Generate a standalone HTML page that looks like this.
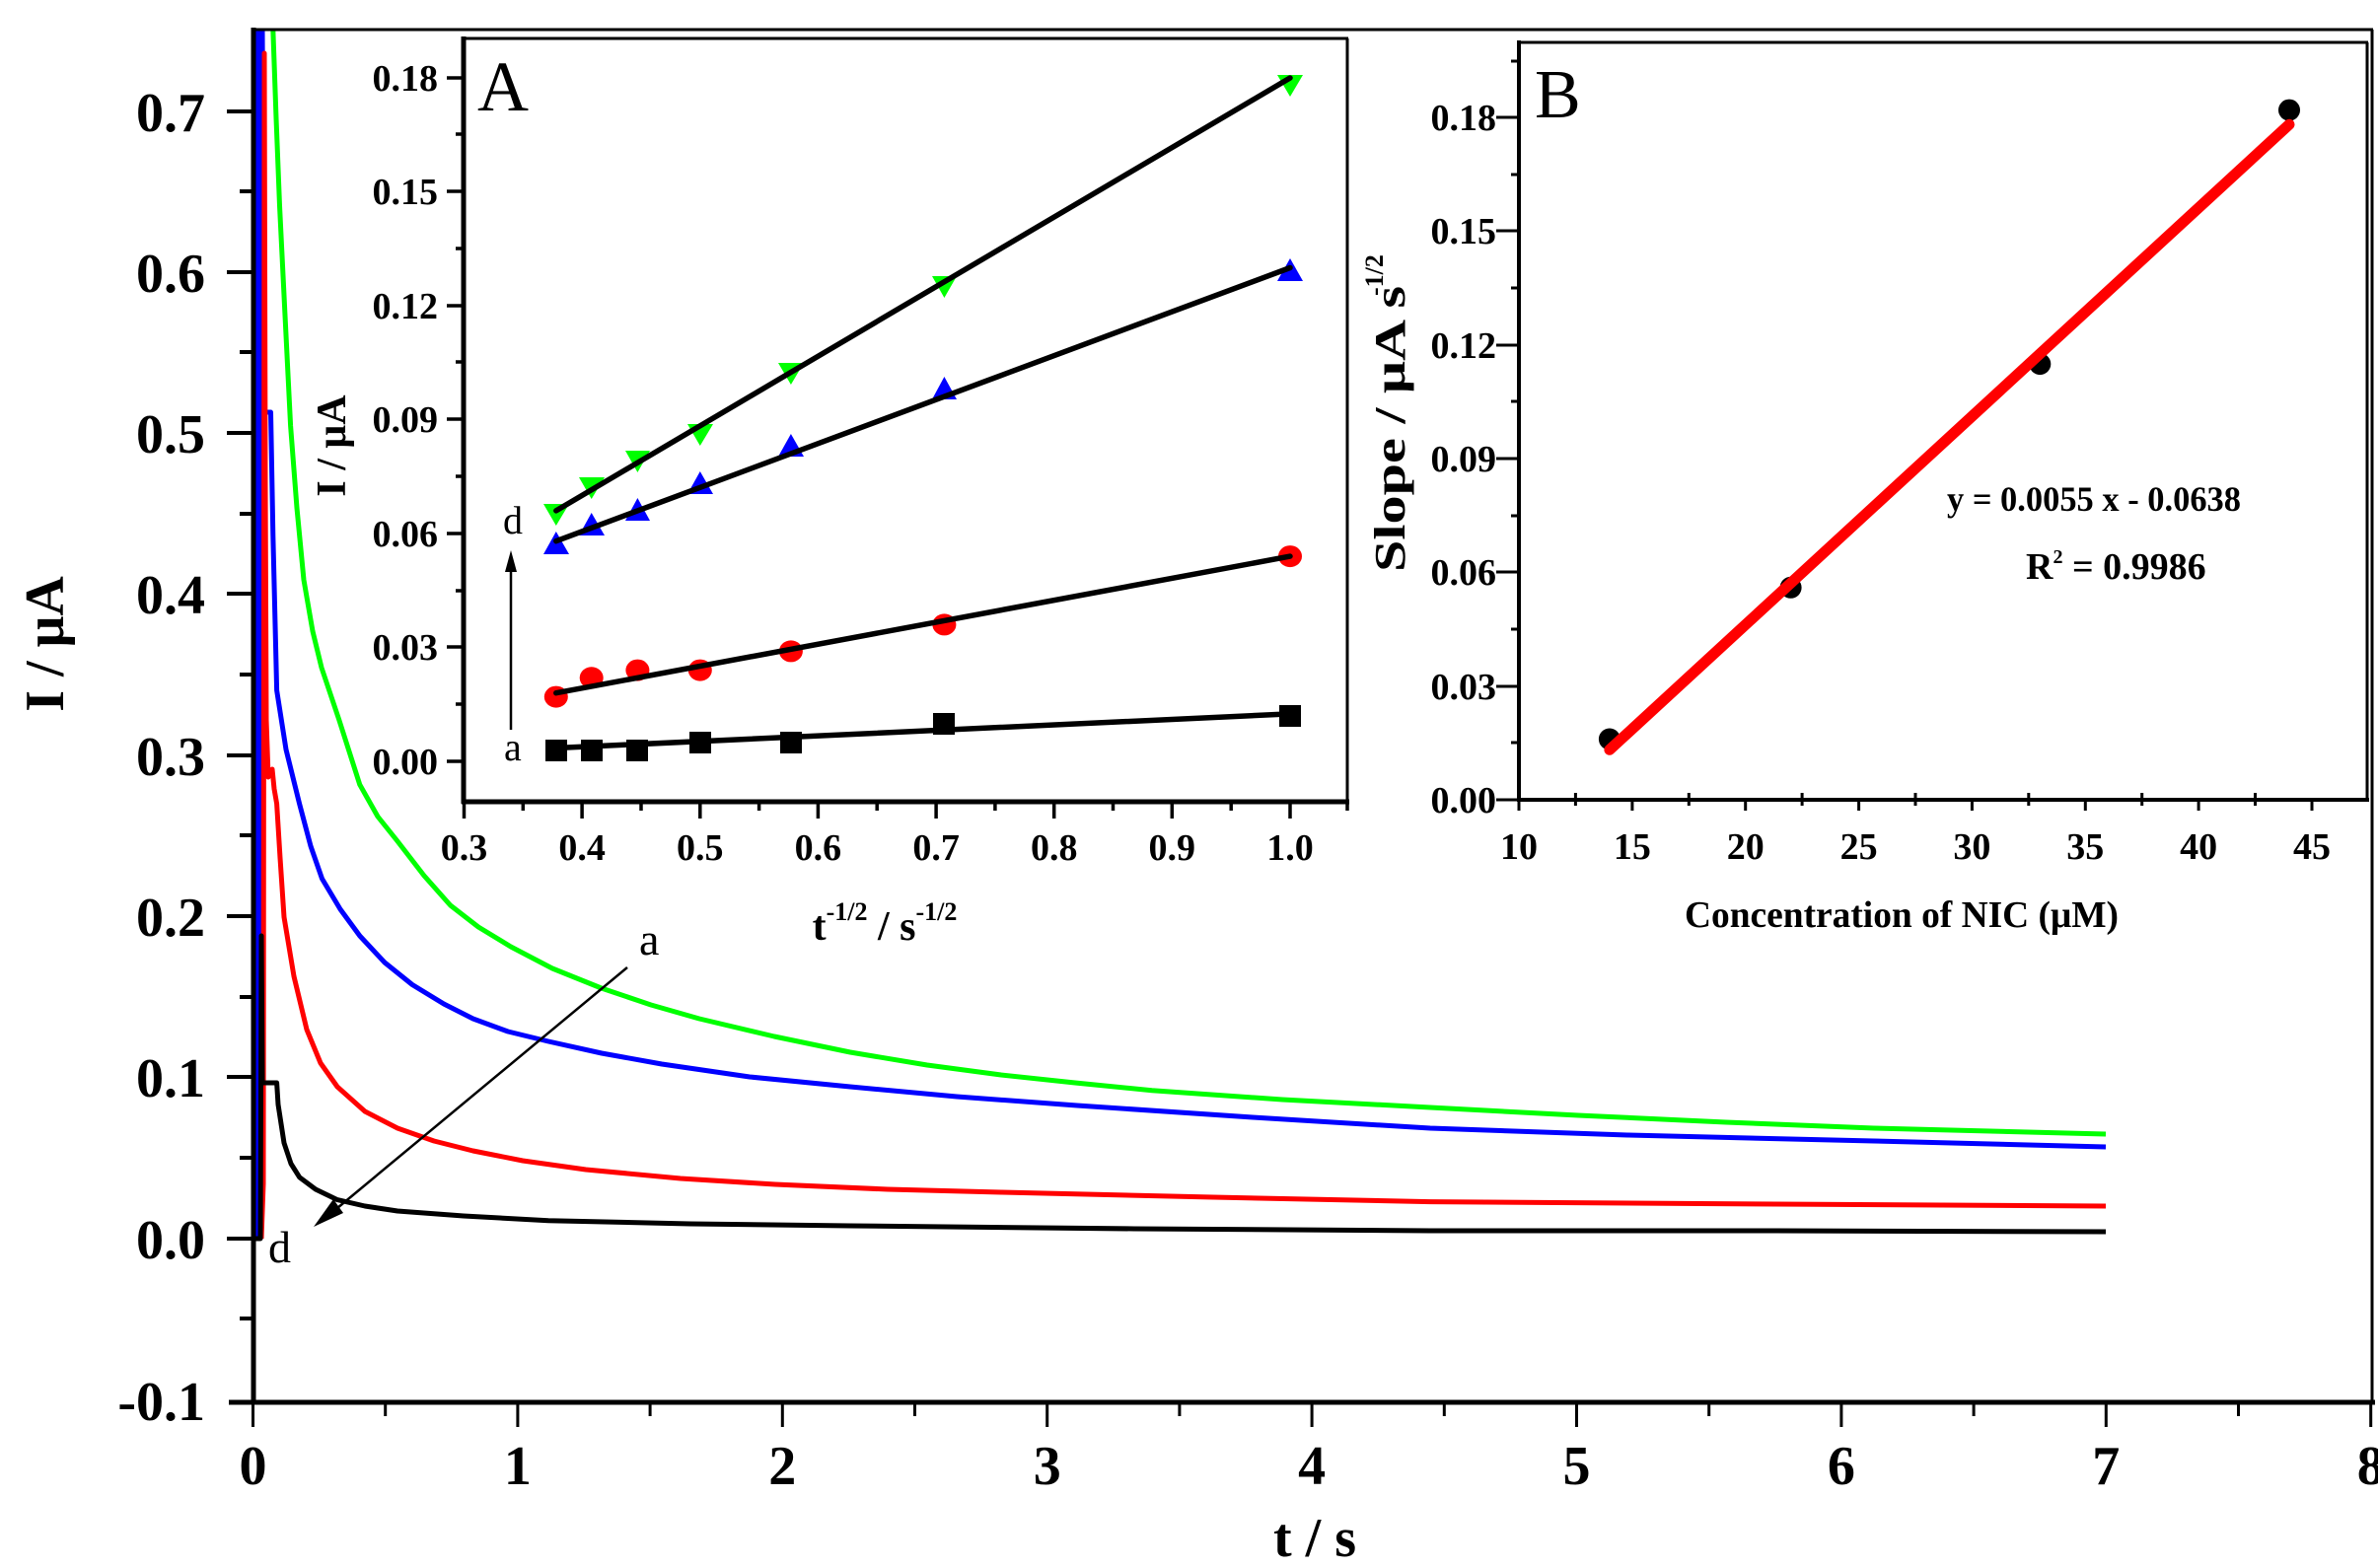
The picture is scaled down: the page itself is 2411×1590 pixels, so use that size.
<!DOCTYPE html>
<html><head><meta charset="utf-8"><style>
html,body{margin:0;padding:0;background:#fff;}
svg{display:block;}
text{font-family:"Liberation Serif",serif;}
</style></head><body>
<svg width="2411" height="1590" viewBox="0 0 2411 1590" xmlns="http://www.w3.org/2000/svg">
<defs><clipPath id="cp"><rect x="257" y="30" width="2148" height="1392"/></clipPath></defs>
<rect width="2411" height="1590" fill="#fff"/>

<!-- main curves -->
<g fill="none" stroke-width="5" stroke-linejoin="round" stroke-linecap="butt" clip-path="url(#cp)">
<polyline stroke="#00ff00" stroke-width="3" points="264,1256 264,440"/>
<polyline stroke="#00ff00" points="276.8,30 280,120 283.5,208.6 289,320 294.6,431.8 301,515 308,588 317,640 326,677 343.8,730 364.8,795.7 383,828 403,853 430,888 456.6,918 485,940 517.9,960 560,982 609.7,1002 660,1019 709,1033 785,1051 862,1067 940,1080 1015,1090 1090,1098 1168,1105.7 1300,1115 1450,1123 1600,1131 1750,1138 1900,1144 2135,1150"/>
<polyline stroke="#0000ff" stroke-width="16" points="259,1256 259,30"/>
<polyline stroke="#0000ff" points="266,30 268,418 274.5,418 276.8,543 280.6,700 290,760 303.6,815 315,858 326.5,891 345,922 364.8,949 390,976 418,998.5 450,1018 479.6,1033 515,1046 556,1056 610,1068 671,1079 760,1092 862,1102 970,1112 1092,1121 1270,1133 1450,1144 1650,1151 1900,1157 2135,1163"/>
<polyline stroke="#ff0000" points="265,1256 267,1200 268,54 269,490 270,730 272,788 276,780 278,800 280.6,815 284,870 288,930 298,990 311,1044 325,1078 342,1102 370,1127 403,1144 440,1157 479.6,1167 530,1177 594,1186 690,1195 786,1201 900,1206 1015,1209 1230,1214 1450,1218.6 1800,1221 2135,1223"/>
<polyline stroke="#000" points="258,1256 264,1256 265,949 266,1098 274,1098 280.6,1098 282,1120 288,1159 295,1180 303.6,1193.7 320,1206 342,1216.6 370,1223 403,1228 470,1233 556,1237.7 700,1241 862,1243 1150,1246 1450,1248 1800,1248 2135,1249"/>
</g>

<!-- main axes -->
<g stroke="#000" fill="none">
<line x1="256" y1="30" x2="2406" y2="30" stroke-width="3"/>
<line x1="2405" y1="30" x2="2405" y2="1424" stroke-width="3"/>
<line x1="257" y1="28" x2="257" y2="1424" stroke-width="5"/>
<line x1="232" y1="1422" x2="2408" y2="1422" stroke-width="5"/>
<g stroke-width="4">
<line x1="230" y1="113" x2="257" y2="113"/><line x1="243" y1="194" x2="257" y2="194"/>
<line x1="230" y1="276" x2="257" y2="276"/><line x1="243" y1="357" x2="257" y2="357"/>
<line x1="230" y1="439" x2="257" y2="439"/><line x1="243" y1="521" x2="257" y2="521"/>
<line x1="230" y1="602" x2="257" y2="602"/><line x1="243" y1="684" x2="257" y2="684"/>
<line x1="230" y1="766" x2="257" y2="766"/><line x1="243" y1="847" x2="257" y2="847"/>
<line x1="230" y1="929" x2="257" y2="929"/><line x1="243" y1="1011" x2="257" y2="1011"/>
<line x1="230" y1="1092" x2="257" y2="1092"/><line x1="243" y1="1174" x2="257" y2="1174"/>
<line x1="230" y1="1256" x2="257" y2="1256"/><line x1="243" y1="1337" x2="257" y2="1337"/>
</g>
<g stroke-width="3">
<line x1="256.5" y1="1422" x2="256.5" y2="1447"/><line x1="390.7" y1="1422" x2="390.7" y2="1436"/>
<line x1="524.9" y1="1422" x2="524.9" y2="1447"/><line x1="659.1" y1="1422" x2="659.1" y2="1436"/>
<line x1="793.3" y1="1422" x2="793.3" y2="1447"/><line x1="927.5" y1="1422" x2="927.5" y2="1436"/>
<line x1="1061.7" y1="1422" x2="1061.7" y2="1447"/><line x1="1195.9" y1="1422" x2="1195.9" y2="1436"/>
<line x1="1330.1" y1="1422" x2="1330.1" y2="1447"/><line x1="1464.3" y1="1422" x2="1464.3" y2="1436"/>
<line x1="1598.5" y1="1422" x2="1598.5" y2="1447"/><line x1="1732.7" y1="1422" x2="1732.7" y2="1436"/>
<line x1="1866.9" y1="1422" x2="1866.9" y2="1447"/><line x1="2001.1" y1="1422" x2="2001.1" y2="1436"/>
<line x1="2135.3" y1="1422" x2="2135.3" y2="1447"/><line x1="2269.5" y1="1422" x2="2269.5" y2="1436"/>
<line x1="2403.7" y1="1422" x2="2403.7" y2="1447"/>
</g>
</g>
<g font-size="56" font-weight="bold" text-anchor="end">
<text x="208" y="133">0.7</text><text x="208" y="296">0.6</text><text x="208" y="459">0.5</text>
<text x="208" y="622">0.4</text><text x="208" y="786">0.3</text><text x="208" y="949">0.2</text>
<text x="208" y="1112">0.1</text><text x="208" y="1276">0.0</text><text x="208" y="1440">-0.1</text>
</g>
<g font-size="56" font-weight="bold" text-anchor="middle">
<text x="256.5" y="1505">0</text><text x="524.9" y="1505">1</text><text x="793.3" y="1505">2</text>
<text x="1061.7" y="1505">3</text><text x="1330.1" y="1505">4</text><text x="1598.5" y="1505">5</text>
<text x="1866.9" y="1505">6</text><text x="2135.3" y="1505">7</text><text x="2403.7" y="1505">8</text>
<text x="1333" y="1578">t / s</text>
<text transform="translate(64,653) rotate(-90)">I / μA</text>
</g>
<!-- a->d arrow main -->
<line x1="636" y1="981" x2="330" y2="1235" stroke="#000" stroke-width="2.5"/>
<polygon points="318,1244 338,1216 348,1230" fill="#000"/>
<text x="648" y="968" font-size="46">a</text>
<text x="272" y="1280" font-size="46">d</text>

<!-- Inset A -->
<rect x="470" y="39" width="897" height="774" fill="#fff" stroke="none"/>
<g stroke="#000" fill="none">
<line x1="470" y1="39" x2="1367" y2="39" stroke-width="3"/>
<line x1="1366" y1="39" x2="1366" y2="815" stroke-width="3"/>
<line x1="470" y1="37" x2="470" y2="815" stroke-width="5"/>
<line x1="468" y1="813" x2="1368" y2="813" stroke-width="5"/>
<g stroke-width="3.5">
<line x1="453" y1="79" x2="470" y2="79"/><line x1="462" y1="136" x2="470" y2="136"/>
<line x1="453" y1="194" x2="470" y2="194"/><line x1="462" y1="252" x2="470" y2="252"/>
<line x1="453" y1="310" x2="470" y2="310"/><line x1="462" y1="367" x2="470" y2="367"/>
<line x1="453" y1="425" x2="470" y2="425"/><line x1="462" y1="483" x2="470" y2="483"/>
<line x1="453" y1="541" x2="470" y2="541"/><line x1="462" y1="599" x2="470" y2="599"/>
<line x1="453" y1="656" x2="470" y2="656"/><line x1="462" y1="714" x2="470" y2="714"/>
<line x1="453" y1="772" x2="470" y2="772"/>
<line x1="470.5" y1="813" x2="470.5" y2="830"/><line x1="530.3" y1="813" x2="530.3" y2="822"/>
<line x1="590.1" y1="813" x2="590.1" y2="830"/><line x1="650" y1="813" x2="650" y2="822"/>
<line x1="709.8" y1="813" x2="709.8" y2="830"/><line x1="769.6" y1="813" x2="769.6" y2="822"/>
<line x1="829.4" y1="813" x2="829.4" y2="830"/><line x1="889.2" y1="813" x2="889.2" y2="822"/>
<line x1="949.1" y1="813" x2="949.1" y2="830"/><line x1="1008.9" y1="813" x2="1008.9" y2="822"/>
<line x1="1068.7" y1="813" x2="1068.7" y2="830"/><line x1="1128.5" y1="813" x2="1128.5" y2="822"/>
<line x1="1188.3" y1="813" x2="1188.3" y2="830"/><line x1="1248.2" y1="813" x2="1248.2" y2="822"/>
<line x1="1308" y1="813" x2="1308" y2="830"/><line x1="1366" y1="813" x2="1366" y2="822"/>
</g>
</g>
<g font-size="38" font-weight="bold" text-anchor="end">
<text x="444" y="92">0.18</text><text x="444" y="207">0.15</text><text x="444" y="323">0.12</text>
<text x="444" y="438">0.09</text><text x="444" y="554">0.06</text><text x="444" y="669">0.03</text>
<text x="444" y="785">0.00</text>
</g>
<g font-size="38" font-weight="bold" text-anchor="middle">
<text x="470.5" y="872">0.3</text><text x="590.1" y="872">0.4</text><text x="709.8" y="872">0.5</text>
<text x="829.4" y="872">0.6</text><text x="949.1" y="872">0.7</text><text x="1068.7" y="872">0.8</text>
<text x="1188.3" y="872">0.9</text><text x="1308" y="872">1.0</text>
</g>
<text x="897" y="953" font-size="42" font-weight="bold" text-anchor="middle">t<tspan font-size="26" dy="-20">-1/2</tspan><tspan dy="20"> / s</tspan><tspan font-size="26" dy="-20">-1/2</tspan></text>
<text transform="translate(350,452) rotate(-90)" font-size="42" font-weight="bold" text-anchor="middle">I / μA</text>
<text x="484" y="112" font-size="72">A</text>
<line x1="518" y1="740" x2="518" y2="575" stroke="#000" stroke-width="2.5"/>
<polygon points="518,558 512,580 524,580" fill="#000"/>
<text x="510" y="541" font-size="40">d</text>
<text x="511" y="771" font-size="40">a</text>

<g fill="#000">
<rect x="553" y="750" width="22" height="22"/><rect x="589" y="750" width="22" height="22"/>
<rect x="635" y="750" width="22" height="22"/><rect x="699" y="742" width="22" height="22"/>
<rect x="791" y="742" width="22" height="22"/><rect x="946" y="723" width="22" height="22"/>
<rect x="1297" y="715" width="22" height="22"/>
</g>
<g fill="#ff0000">
<ellipse cx="563.8" cy="706.6" rx="12" ry="11"/><ellipse cx="599.7" cy="687.3" rx="12" ry="11"/>
<ellipse cx="646.4" cy="679.6" rx="12" ry="11"/><ellipse cx="709.8" cy="679.6" rx="12" ry="11"/>
<ellipse cx="801.9" cy="660.4" rx="12" ry="11"/><ellipse cx="957.4" cy="633.4" rx="12" ry="11"/>
<ellipse cx="1308" cy="564.1" rx="12" ry="11"/>
</g>
<g fill="#0000ff">
<polygon points="563.8,539 551,562 577,562"/><polygon points="599.7,520 587,543 613,543"/>
<polygon points="646.4,505 634,528 659,528"/><polygon points="709.8,478 697,501 723,501"/>
<polygon points="801.9,440 789,463 815,463"/><polygon points="957.4,382 945,405 970,405"/>
<polygon points="1308,262 1295,285 1321,285"/>
</g>
<g fill="#00ff00">
<polygon points="563.8,533 551,511 577,511"/><polygon points="599.7,506 587,484 613,484"/>
<polygon points="646.4,479 634,457 659,457"/><polygon points="709.8,452 697,430 723,430"/>
<polygon points="801.9,390 789,368 815,368"/><polygon points="957.4,302 945,280 970,280"/>
<polygon points="1308,98 1295,76 1321,76"/>
</g>
<g stroke="#000" stroke-width="5.5" stroke-linecap="round">
<line x1="563.8" y1="758.5" x2="1308" y2="723.9"/>
<line x1="563.8" y1="702.7" x2="1308" y2="564.1"/>
<line x1="563.8" y1="548.7" x2="1308" y2="271.5"/>
<line x1="563.8" y1="517.9" x2="1308" y2="79"/>
</g>

<!-- Inset B -->
<rect x="1540" y="43" width="861" height="768" fill="#fff"/>
<g stroke="#000" fill="none">
<line x1="1540" y1="43" x2="2401" y2="43" stroke-width="3"/>
<line x1="2400" y1="43" x2="2400" y2="813" stroke-width="3"/>
<line x1="1540" y1="41" x2="1540" y2="813" stroke-width="4"/>
<line x1="1538" y1="811" x2="2402" y2="811" stroke-width="4"/>
<g stroke-width="3">
<line x1="1517" y1="119" x2="1540" y2="119"/><line x1="1532" y1="62" x2="1540" y2="62"/><line x1="1532" y1="177" x2="1540" y2="177"/>
<line x1="1517" y1="234" x2="1540" y2="234"/><line x1="1532" y1="292" x2="1540" y2="292"/>
<line x1="1517" y1="350" x2="1540" y2="350"/><line x1="1532" y1="407" x2="1540" y2="407"/>
<line x1="1517" y1="465" x2="1540" y2="465"/><line x1="1532" y1="523" x2="1540" y2="523"/>
<line x1="1517" y1="580" x2="1540" y2="580"/><line x1="1532" y1="638" x2="1540" y2="638"/>
<line x1="1517" y1="696" x2="1540" y2="696"/><line x1="1532" y1="753" x2="1540" y2="753"/>
<line x1="1517" y1="811" x2="1540" y2="811"/>
<line x1="1540" y1="811" x2="1540" y2="822"/><line x1="1597.4" y1="804" x2="1597.4" y2="817"/>
<line x1="1654.9" y1="811" x2="1654.9" y2="822"/><line x1="1712.3" y1="804" x2="1712.3" y2="817"/>
<line x1="1769.7" y1="811" x2="1769.7" y2="822"/><line x1="1827.1" y1="804" x2="1827.1" y2="817"/>
<line x1="1884.6" y1="811" x2="1884.6" y2="822"/><line x1="1942" y1="804" x2="1942" y2="817"/>
<line x1="1999.4" y1="811" x2="1999.4" y2="822"/><line x1="2056.8" y1="804" x2="2056.8" y2="817"/>
<line x1="2114.3" y1="811" x2="2114.3" y2="822"/><line x1="2171.7" y1="804" x2="2171.7" y2="817"/>
<line x1="2229.1" y1="811" x2="2229.1" y2="822"/><line x1="2286.5" y1="804" x2="2286.5" y2="817"/>
<line x1="2344" y1="811" x2="2344" y2="822"/>
</g>
</g>
<g font-size="38" font-weight="bold" text-anchor="end">
<text x="1517" y="132">0.18</text><text x="1517" y="247">0.15</text><text x="1517" y="363">0.12</text>
<text x="1517" y="478">0.09</text><text x="1517" y="593">0.06</text><text x="1517" y="709">0.03</text>
<text x="1517" y="824">0.00</text>
</g>
<g font-size="38" font-weight="bold" text-anchor="middle">
<text x="1540" y="871">10</text><text x="1654.9" y="871">15</text><text x="1769.7" y="871">20</text>
<text x="1884.6" y="871">25</text><text x="1999.4" y="871">30</text><text x="2114.3" y="871">35</text>
<text x="2229.1" y="871">40</text><text x="2344" y="871">45</text>
<text x="1928" y="940" textLength="440" lengthAdjust="spacingAndGlyphs">Concentration of NIC (μM)</text>
</g>
<text transform="translate(1424,580) rotate(-90)" font-size="44" font-weight="bold" textLength="290" lengthAdjust="spacingAndGlyphs">Slope / μA  s</text>
<text transform="translate(1402,300) rotate(-90)" font-size="26" font-weight="bold">-1/2</text>
<text x="1556" y="119" font-size="70">B</text>
<g fill="#000">
<circle cx="1631.9" cy="749.5" r="11"/><circle cx="1815.6" cy="595.8" r="11"/>
<circle cx="2068.3" cy="369.1" r="11"/><circle cx="2321" cy="111.6" r="11"/>
</g>
<line x1="1631.9" y1="760.3" x2="2321" y2="126.2" stroke="#ff0000" stroke-width="11" stroke-linecap="round"/>
<text x="1974" y="518" font-size="36" font-weight="bold" textLength="298" lengthAdjust="spacingAndGlyphs">y = 0.0055 x - 0.0638</text>
<text x="2054" y="587" font-size="38" font-weight="bold">R<tspan font-size="20" dy="-16">2</tspan><tspan dy="16"> = 0.9986</tspan></text>
</svg>
</body></html>
